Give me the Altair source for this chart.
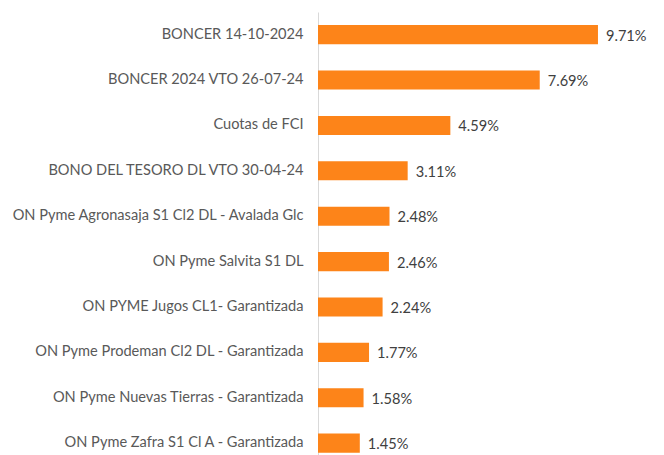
import altair as alt
import pandas as pd

categories = [
    "BONCER 14-10-2024",
    "BONCER 2024 VTO 26-07-24",
    "Cuotas de FCI",
    "BONO DEL TESORO DL VTO 30-04-24",
    "ON Pyme Agronasaja S1 Cl2 DL - Avalada Glc",
    "ON Pyme Salvita S1 DL",
    "ON PYME Jugos CL1- Garantizada",
    "ON Pyme Prodeman Cl2 DL - Garantizada",
    "ON Pyme Nuevas Tierras - Garantizada",
    "ON Pyme Zafra S1 Cl A - Garantizada",
]
values = [0.0971, 0.0769, 0.0459, 0.0311, 0.0248, 0.0246, 0.0224, 0.0177, 0.0158, 0.0145]

df = pd.DataFrame({"cat": categories, "val": values})

y = alt.Y(
    "cat:N",
    sort=categories,
    scale=alt.Scale(paddingInner=0.58, paddingOuter=0.17, align=0.85),
    axis=alt.Axis(
        title=None,
        ticks=False,
        domain=True,
        domainColor="#D9D9D9",
        domainWidth=1,
        labelPadding=15,
        labelLimit=400,
        labelFont="Lato",
        labelFontSize=14.6,
        labelColor="#595959",
    ),
)
x = alt.X("val:Q", scale=alt.Scale(domain=[0, 0.12]), axis=None)

bars = alt.Chart(df).mark_bar(color="#FD8419").encode(x=x, y=y)
labels = alt.Chart(df).mark_text(
    align="left", baseline="middle", dx=8, dy=2,
    font="Lato", fontSize=14.6, color="#404040"
).encode(x=x, y=y, text=alt.Text("val:Q", format=".2%"))

chart = (
    alt.layer(bars, labels)
    .properties(
        width=346,
        height=443,
        padding={"left": 318, "top": 12, "right": 0, "bottom": 0},
        autosize=alt.AutoSizeParams(type="none"),
        background="white",
    )
    .configure_view(stroke=None)
)

chart.save("out.html", embed_options={"renderer": "svg", "actions": False})
